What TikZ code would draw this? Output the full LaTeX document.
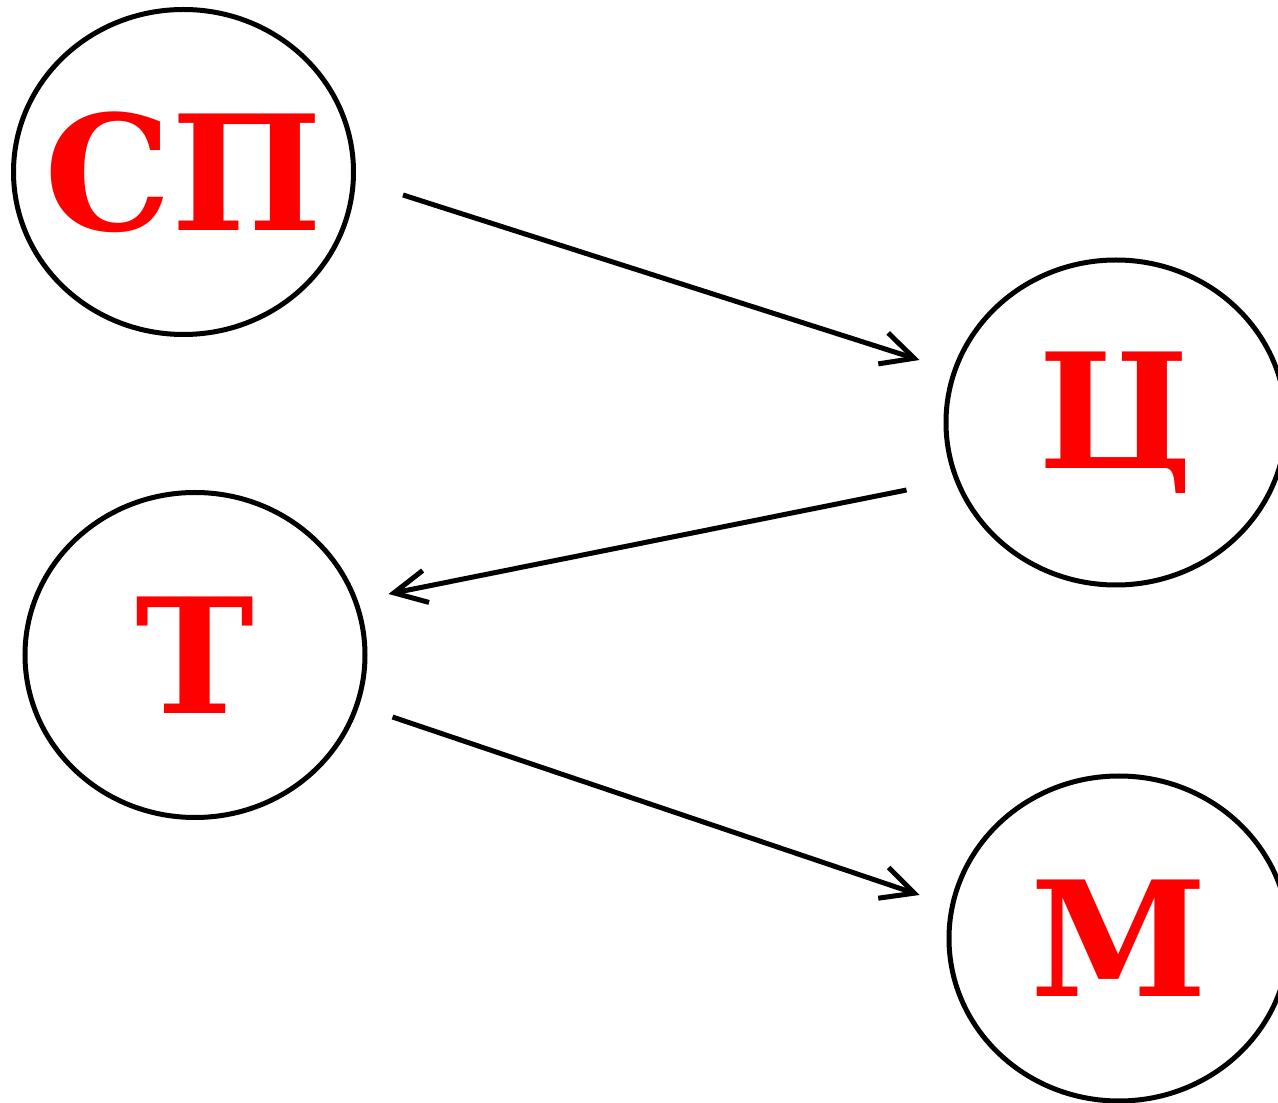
\documentclass[tikz,border=0pt]{standalone}
\usepackage{fontspec}
\setmainfont{DejaVu Serif}
\usetikzlibrary{calc,shapes.geometric,arrows.meta}

\begin{document}
\begin{tikzpicture}[
		stage/.style={draw, ellipse, line width=1mm, minimum width=6.8cm, minimum height=6.5cm, inner sep=0pt, text=red, font=\fontsize{91}{91}\selectfont\bfseries},
		link/.style={line width=1mm, -{Straight Barb[length=0.65cm, width=0.65cm, line width=1mm]}}
	]
		%%%%% START %%%%%
		
		\useasboundingbox (0, 0) rectangle (25.56, 22.04);
		
		\node[stage] (sp) at (3.67, 18.60) {\makebox[0pt]{СП}};
		\node[stage] (c) at (22.32, 13.59) {\makebox[0pt]{Ц}};
		\node[stage] (t) at (3.90, 8.94) {\makebox[0pt]{Т}};
		\node[stage] (m) at (22.38, 3.27) {\makebox[0pt]{М}};
		
		\draw[link] ($(sp.east)+(0.94, -0.46)$) -- ($(c.west)+(-0.48, 1.25)$);
		\draw[link] ($(c.west)+(-0.74, -1.35)$) -- ($(t.east)+(0.42, 1.22)$);
		\draw[link] ($(t.east)+(0.5, -1.24)$) -- ($(m.west)+(-0.54, 0.87)$);
		
		%%%%% END %%%%%
	\end{tikzpicture}
\end{document}
